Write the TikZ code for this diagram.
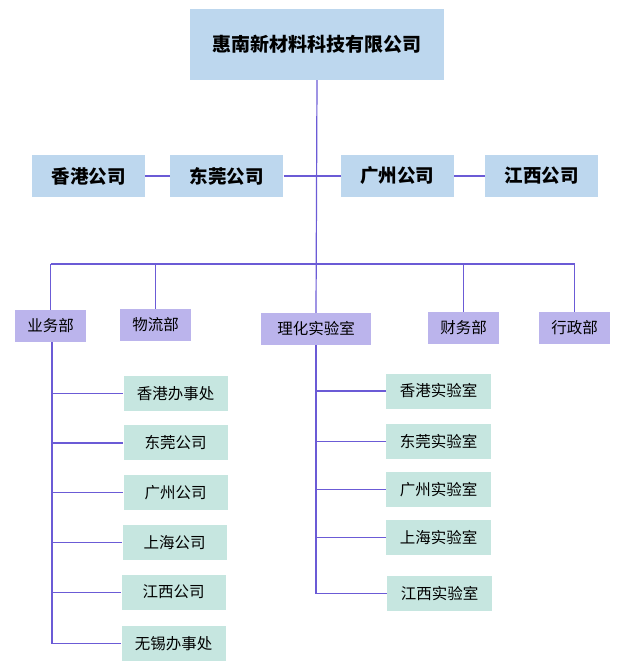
\documentclass[tikz,border=0pt]{standalone}
\usepackage{fontspec}
\setmainfont{Noto Sans CJK SC}
\usepackage{tikz}
\usetikzlibrary{positioning}
\definecolor{orgline}{HTML}{6B5BD6}
\definecolor{orgblue}{HTML}{BDD7EE}
\definecolor{orglilac}{HTML}{BBB4EC}
\definecolor{orgmint}{HTML}{C6E6E0}
\tikzset{
  box/.style={inner sep=0pt, align=center, text=black},
  headbox/.style={box, fill=orgblue, font=\fontsize{19}{22}\selectfont\bfseries,
                  minimum width=254pt, minimum height=71pt},
  firmbox/.style={box, fill=orgblue, font=\fontsize{18.5}{22}\selectfont\bfseries,
                  minimum width=113pt, minimum height=42pt},
  deptbox/.style={box, fill=orglilac, font=\fontsize{15.5}{18}\selectfont,
                  minimum width=71pt, minimum height=32pt},
  leafbox/.style={box, fill=orgmint, font=\fontsize{15.5}{18}\selectfont,
                  minimum width=104pt, minimum height=35pt},
  link/.style={draw=orgline, line width=1.2pt},
}

\begin{document}
\begin{tikzpicture}[x=1pt, y=1pt]
  \useasboundingbox (0,0) rectangle (625,-666);
  % head
  \node[headbox] (head) at (317,-44.5) {惠南新材料科技有限公司};
  % companies
  \node[firmbox] (hk) at (88.5,-176) {香港公司};
  \node[firmbox, right=25pt of hk] (dg) {东莞公司};
  \node[firmbox, right=57pt of dg] (gz) {广州公司};
  \node[firmbox, right=31pt of gz] (jx) {江西公司};
  % departments
  \node[deptbox] (sales) at (50.5,-326) {业务部};
  \node[deptbox] (logi) at (155.5,-325) {物流部};
  \node[deptbox, minimum width=110pt] (lab) at (316,-329) {理化实验室};
  \node[deptbox] (fin) at (463.5,-328) {财务部};
  \node[deptbox] (admin) at (574.5,-328) {行政部};
  % sales offices
  \node[leafbox] (s1) at (175.5,-393.5) {香港办事处};
  \node[leafbox, below=14pt of s1] (s2) {东莞公司};
  \node[leafbox, below=14pt of s2] (s3) {广州公司};
  \node[leafbox, below=15pt of s3, xshift=-1pt] (s4) {上海公司};
  \node[leafbox, below=14pt of s4, xshift=-1pt] (s5) {江西公司};
  \node[leafbox, below=16pt of s5] (s6) {无锡办事处};
  % labs
  \node[leafbox, minimum width=105pt] (l1) at (438.5,-391) {香港实验室};
  \node[leafbox, minimum width=105pt, below=15pt of l1] (l2) {东莞实验室};
  \node[leafbox, minimum width=105pt, below=13pt of l2] (l3) {广州实验室};
  \node[leafbox, minimum width=105pt, below=12pt of l3] (l4) {上海实验室};
  \node[leafbox, minimum width=105pt, below=21pt of l4, xshift=1pt] (l5) {江西实验室};
  % trunk and bar
  \coordinate (barl) at (50.5,-264);
  \coordinate (barr) at (575,-264);
  \coordinate (strunk) at (52,-342);
  \coordinate (ltrunk) at (316,-345);
  \draw[link] (head.south) -- (lab.north);
  \draw[link] (barl) -- (barr);
  \draw[link] (hk) -- (dg);
  \draw[link] (dg) -- (gz);
  \draw[link] (gz) -- (jx);
  \draw[link] (sales.north) -- (sales.north |- barl);
  \draw[link] (logi.north) -- (logi.north |- barl);
  \draw[link] (fin.north) -- (fin.north |- barl);
  \draw[link] (admin.north) -- (admin.north |- barl);
  % sales branches
  \draw[link] (strunk) -- (strunk |- s6);
  \draw[link] (strunk |- s1) -- (s1.west);
  \draw[link] (strunk |- s2) -- (s2.west);
  \draw[link] (strunk |- s3) -- (s3.west);
  \draw[link] (strunk |- s4) -- (s4.west);
  \draw[link] (strunk |- s5) -- (s5.west);
  \draw[link] (strunk |- s6) -- (s6.west);
  % lab branches
  \draw[link] (lab.south) -- (ltrunk |- l5);
  \draw[link] (ltrunk |- l1) -- (l1.west);
  \draw[link] (ltrunk |- l2) -- (l2.west);
  \draw[link] (ltrunk |- l3) -- (l3.west);
  \draw[link] (ltrunk |- l4) -- (l4.west);
  \draw[link] (ltrunk |- l5) -- (l5.west);
\end{tikzpicture}
\end{document}
